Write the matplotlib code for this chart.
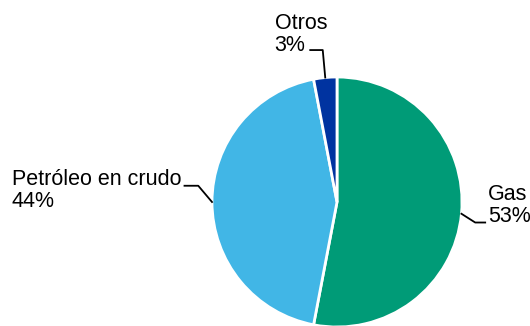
import numpy as np
import matplotlib
matplotlib.use('Agg')
import matplotlib.pyplot as plt

plt.rcParams['font.family'] = ['Liberation Sans', 'DejaVu Sans']

# data
labels = ['Gas', 'Petróleo en crudo', 'Otros']
values = [53, 44, 3]
colors = ['#009B77', '#41B6E6', '#0033A0']

# label layout: elbow offset, end offset, text position (left edge)
elbows = [(0.11, -0.07), (-0.11, 0.13), (-0.02, 0.22)]
ends = [(0.19, -0.07), (-0.22, 0.13), (-0.12, 0.22)]
texts = [(1.21, -0.03), (-2.6, 0.095), (-0.5, 1.34)]

fig = plt.figure(figsize=(5.3, 3.26), dpi=100)
W, H = 530, 326
cx, cy, r = 337, 202, 125
ax = fig.add_axes([(cx - r) / W, 1 - (cy + r) / H, 2 * r / W, 2 * r / H])

wedges, _ = ax.pie(values, colors=colors, startangle=90, counterclock=False,
                   radius=1, wedgeprops=dict(edgecolor='white', linewidth=2))
ax.set_xlim(-1, 1)
ax.set_ylim(-1, 1)
ax.set_aspect('equal')
ax.axis('off')

for w, lab, v, el, en, tp in zip(wedges, labels, values, elbows, ends, texts):
    ang = np.deg2rad((w.theta1 + w.theta2) / 2)
    x0, y0 = np.cos(ang), np.sin(ang)
    xs = [x0, x0 + el[0], x0 + en[0]]
    ys = [y0, y0 + el[1], y0 + en[1]]
    ax.plot(xs, ys, color='black', lw=1.3, clip_on=False)
    ax.text(tp[0], tp[1], f'{lab}\n{v}%', ha='left', va='center', fontsize=15.5,
            linespacing=1.05, color='black', clip_on=False)

fig.savefig('out.png', dpi=100)
